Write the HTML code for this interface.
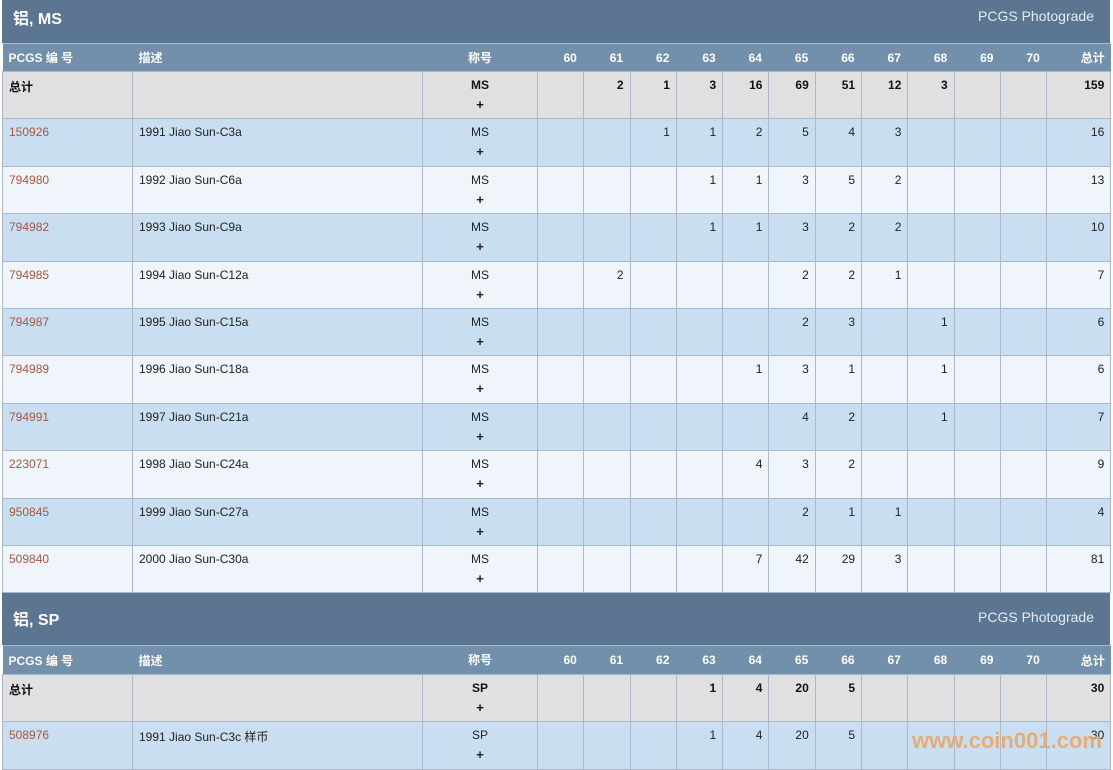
<!DOCTYPE html>
<html><head><meta charset="utf-8"><style>
body{margin:0;width:1113px;height:768px;overflow:hidden;background:#fff;font-family:"Liberation Sans","Noto Sans CJK SC",sans-serif;font-size:12px;color:#222}
.sec{position:absolute;left:2px;width:1108px;background:#5c7691;color:#fff}
.sec .t{position:absolute;left:11px;font-size:16px;font-weight:bold}
.sec .r{position:absolute;right:16px;font-size:14px;color:#e4ecf3}
table{position:absolute;left:2px;border-collapse:collapse;table-layout:fixed;width:1108px}
td{border:1px solid #aab9c9;vertical-align:top;padding:6px 6px 0 6px;text-align:right;overflow:hidden;white-space:nowrap}
td:nth-child(1),td:nth-child(2){text-align:left}
td:nth-child(3){text-align:center;line-height:20px;padding-top:3px}
tr.h td{background:#7290ab;color:#fff;font-weight:bold;border:none;border-top:1px solid #a9bccf;height:27px;padding:0 7px 0 6px;vertical-align:middle}
tr.h td:nth-child(15){padding-right:6px}
tr{height:47.4px}
tr.tot td{background:#e0e0e0;font-weight:bold;color:#111}
tr.b td{background:#c9dff1}
tr.w td{background:#eff5fa}
a{color:#a35a3e;text-decoration:none}
.p{font-weight:bold;font-size:13px}
</style></head><body>
<div class="sec" style="top:0;height:43px"><span class="t" style="top:5px">铝, MS</span><span class="r" style="top:8px">PCGS Photograde</span></div>
<table style="top:43px">
<colgroup><col style="width:130px"><col style="width:290px"><col style="width:115px"><col span="11" style="width:46.3px"><col style="width:64px"></colgroup>
<tr class="h" style="height:28px"><td>PCGS 编 号</td><td>描述</td><td style="text-align:center;padding:0">称号</td><td>60</td><td>61</td><td>62</td><td>63</td><td>64</td><td>65</td><td>66</td><td>67</td><td>68</td><td>69</td><td>70</td><td>总计</td></tr>
<tr class="tot"><td>总计</td><td></td><td>MS<br><span class="p">+</span></td><td></td><td>2</td><td>1</td><td>3</td><td>16</td><td>69</td><td>51</td><td>12</td><td>3</td><td></td><td></td><td>159</td></tr>
<tr class="b"><td><a>150926</a></td><td>1991 Jiao Sun-C3a</td><td>MS<br><span class="p">+</span></td><td></td><td></td><td>1</td><td>1</td><td>2</td><td>5</td><td>4</td><td>3</td><td></td><td></td><td></td><td>16</td></tr>
<tr class="w"><td><a>794980</a></td><td>1992 Jiao Sun-C6a</td><td>MS<br><span class="p">+</span></td><td></td><td></td><td></td><td>1</td><td>1</td><td>3</td><td>5</td><td>2</td><td></td><td></td><td></td><td>13</td></tr>
<tr class="b"><td><a>794982</a></td><td>1993 Jiao Sun-C9a</td><td>MS<br><span class="p">+</span></td><td></td><td></td><td></td><td>1</td><td>1</td><td>3</td><td>2</td><td>2</td><td></td><td></td><td></td><td>10</td></tr>
<tr class="w"><td><a>794985</a></td><td>1994 Jiao Sun-C12a</td><td>MS<br><span class="p">+</span></td><td></td><td>2</td><td></td><td></td><td></td><td>2</td><td>2</td><td>1</td><td></td><td></td><td></td><td>7</td></tr>
<tr class="b"><td><a>794987</a></td><td>1995 Jiao Sun-C15a</td><td>MS<br><span class="p">+</span></td><td></td><td></td><td></td><td></td><td></td><td>2</td><td>3</td><td></td><td>1</td><td></td><td></td><td>6</td></tr>
<tr class="w"><td><a>794989</a></td><td>1996 Jiao Sun-C18a</td><td>MS<br><span class="p">+</span></td><td></td><td></td><td></td><td></td><td>1</td><td>3</td><td>1</td><td></td><td>1</td><td></td><td></td><td>6</td></tr>
<tr class="b"><td><a>794991</a></td><td>1997 Jiao Sun-C21a</td><td>MS<br><span class="p">+</span></td><td></td><td></td><td></td><td></td><td></td><td>4</td><td>2</td><td></td><td>1</td><td></td><td></td><td>7</td></tr>
<tr class="w"><td><a>223071</a></td><td>1998 Jiao Sun-C24a</td><td>MS<br><span class="p">+</span></td><td></td><td></td><td></td><td></td><td>4</td><td>3</td><td>2</td><td></td><td></td><td></td><td></td><td>9</td></tr>
<tr class="b"><td><a>950845</a></td><td>1999 Jiao Sun-C27a</td><td>MS<br><span class="p">+</span></td><td></td><td></td><td></td><td></td><td></td><td>2</td><td>1</td><td>1</td><td></td><td></td><td></td><td>4</td></tr>
<tr class="w"><td><a>509840</a></td><td>2000 Jiao Sun-C30a</td><td>MS<br><span class="p">+</span></td><td></td><td></td><td></td><td></td><td>7</td><td>42</td><td>29</td><td>3</td><td></td><td></td><td></td><td>81</td></tr>
</table>
<div class="sec" style="top:593px;height:52px"><span class="t" style="top:13px">铝, SP</span><span class="r" style="top:16px">PCGS Photograde</span></div>
<table style="top:645px">
<colgroup><col style="width:130px"><col style="width:290px"><col style="width:115px"><col span="11" style="width:46.3px"><col style="width:64px"></colgroup>
<tr class="h" style="height:29px"><td>PCGS 编 号</td><td>描述</td><td style="text-align:center;padding:0">称号</td><td>60</td><td>61</td><td>62</td><td>63</td><td>64</td><td>65</td><td>66</td><td>67</td><td>68</td><td>69</td><td>70</td><td>总计</td></tr>
<tr class="tot"><td>总计</td><td></td><td>SP<br><span class="p">+</span></td><td></td><td></td><td></td><td>1</td><td>4</td><td>20</td><td>5</td><td></td><td></td><td></td><td></td><td>30</td></tr>
<tr class="b"><td><a>508976</a></td><td>1991 Jiao Sun-C3c 样币</td><td>SP<br><span class="p">+</span></td><td></td><td></td><td></td><td>1</td><td>4</td><td>20</td><td>5</td><td></td><td></td><td></td><td></td><td>30</td></tr>
</table>
<div style="position:absolute;left:912px;top:728px;font-size:22px;font-weight:bold;color:#e8a86a;opacity:.9">www.coin001.com</div>
</body></html>
